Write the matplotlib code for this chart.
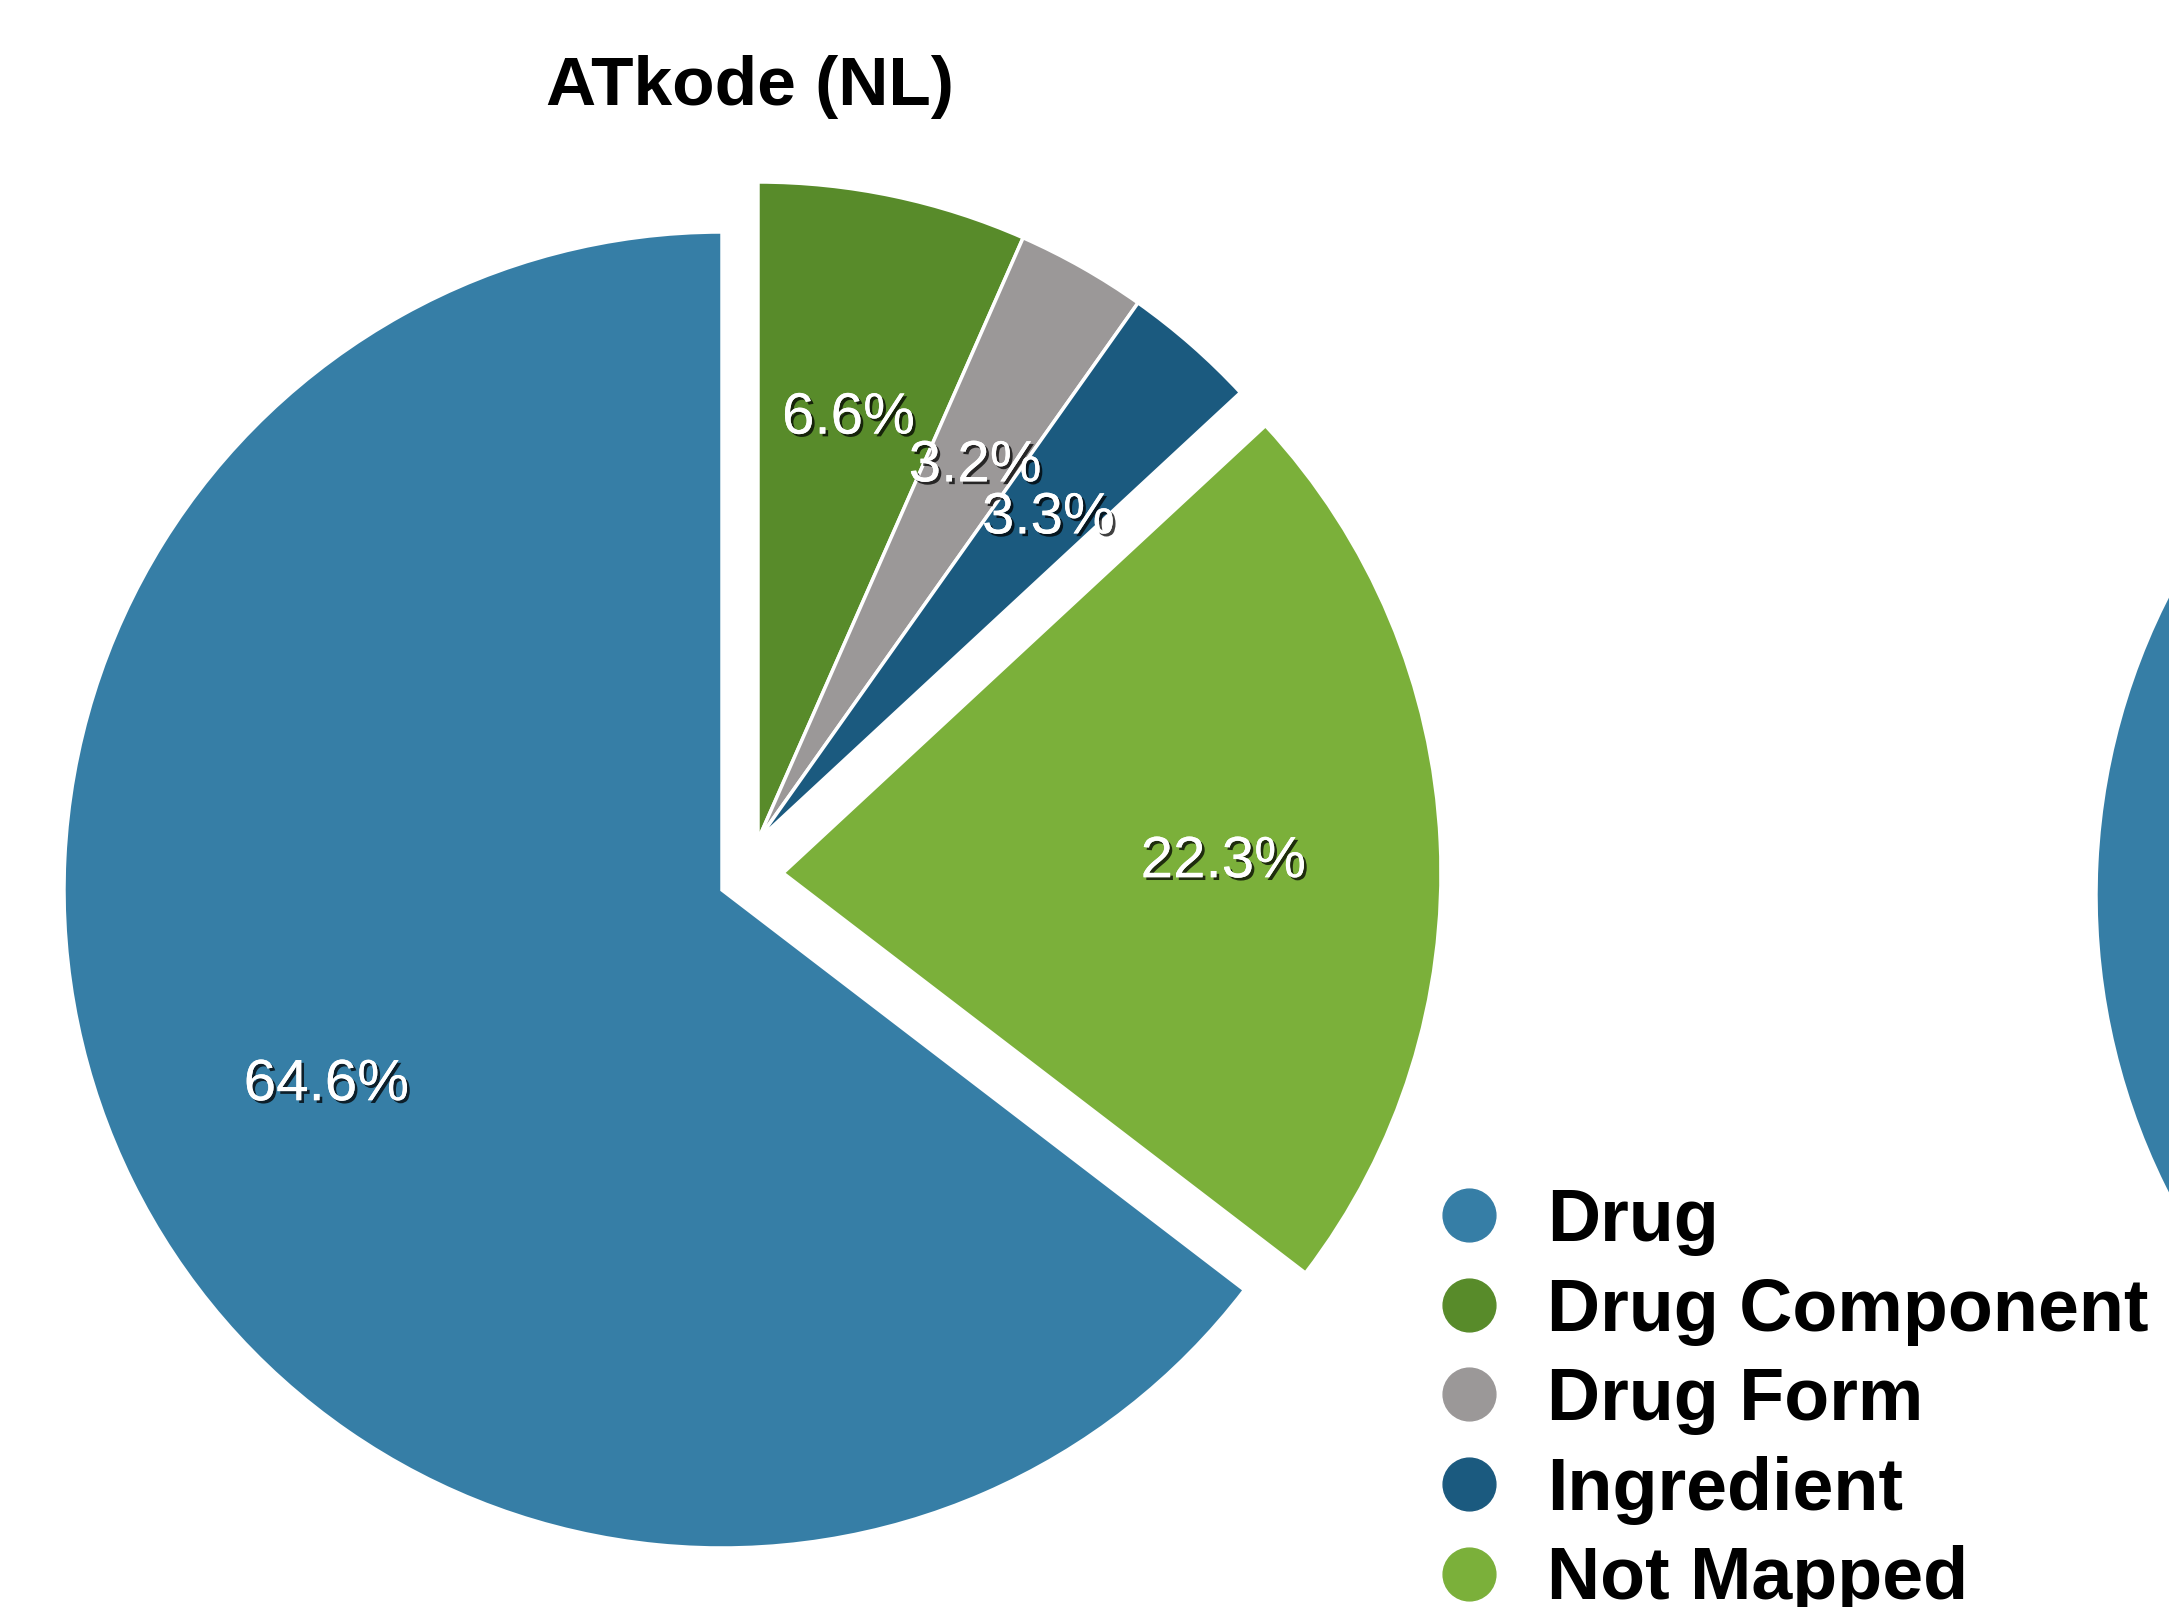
import matplotlib.pyplot as plt
import matplotlib.patheffects as pe
from matplotlib.lines import Line2D

plt.rcParams['font.family'] = ['Liberation Sans', 'DejaVu Sans']

# data
categories = ['Drug', 'Drug Component', 'Drug Form', 'Ingredient', 'Not Mapped']
shares = [64.6, 6.6, 3.2, 3.3, 22.3]
slice_colors = ['#367ea6', '#588b2a', '#9b9898', '#1b5a7f', '#7bb03a']
title = 'ATkode (NL)'

W, H = 2169, 1607
fig = plt.figure(figsize=(W / 100, H / 100), dpi=100)
ax = fig.add_axes([0, 0, 1, 1])

cx, cy, R = 722, H - 890, 658
start = 90 + 360 * shares[0] / sum(shares)

wedges, _, autotexts = ax.pie(
    shares, colors=slice_colors, startangle=start, counterclock=False,
    center=(cx, cy), radius=R, autopct='%1.1f%%', pctdistance=0.67,
    wedgeprops=dict(edgecolor='white', linewidth=2.5),
    textprops=dict(color='white', fontsize=42))

# the three small slices are pulled out together, "Not Mapped" on its own
offsets = [(0, 0), (36, 50), (36, 50), (36, 50), (61, 17)]
for w, t, (dx, dy) in zip(wedges, autotexts, offsets):
    w.set_center((cx + dx, cy + dy))
    x, y = t.get_position()
    # labels of pulled-out slices sit a little lower
    t.set_position((x + dx, y + dy - (10 if dx else 0)))
    t.set_path_effects([
        pe.withSimplePatchShadow(offset=(2, -2), shadow_rgbFace='black', alpha=0.75),
        pe.Normal()])

# neighbouring chart, cut off at the right edge of the picture
ax.pie(shares, colors=slice_colors, startangle=start, counterclock=False,
       center=(2754, H - 895), radius=R,
       wedgeprops=dict(edgecolor='white', linewidth=2.5))

ax.set_xlim(0, W)
ax.set_ylim(0, H)
ax.set_aspect('equal')
ax.axis('off')

fig.text(750 / W, 1 - 87 / H, title, ha='center', va='center',
         fontsize=50, fontweight='bold')

handles = [Line2D([], [], marker='o', linestyle='', markersize=38,
                  markerfacecolor=c, markeredgecolor=c) for c in slice_colors]
fig.legend(handles, categories, loc='upper left',
           bbox_to_anchor=(1432 / W, 1 - 1187 / H), frameon=False,
           borderpad=0, borderaxespad=0, handlelength=1.0, handletextpad=0.56,
           labelspacing=0.28, prop=dict(size=53, weight='bold'))

fig.savefig('out.png', dpi=100)
